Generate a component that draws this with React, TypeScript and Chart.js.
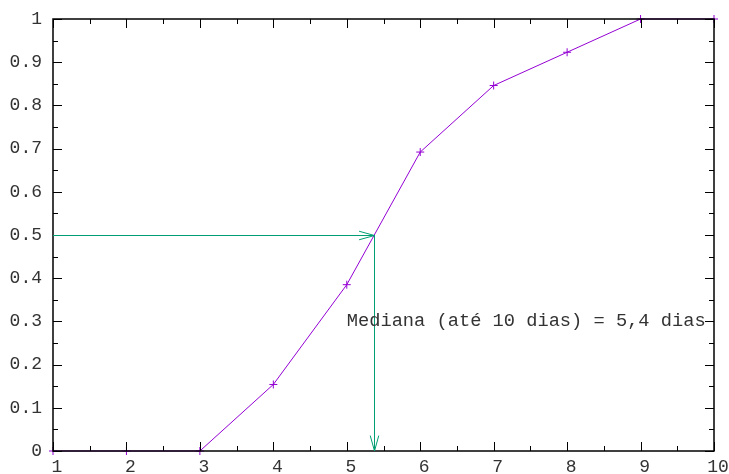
import React, { useEffect, useRef } from "react";
import { Chart, registerables } from "chart.js";

Chart.register(...registerables);

// ---- data ----
const DAYS = [1, 2, 3, 4, 5, 6, 7, 8, 9, 10];
const CUM_FRACTION = [0, 0, 0, 0.154, 0.385, 0.692, 0.846, 0.923, 1, 1];
const X_TICKS = [1, 2, 3, 4, 5, 6, 7, 8, 9, 10];
const X_TICK_LABELS = ["1", "2", "3", "4", "5", "6", "7", "8", "9", "10"];
const Y_TICKS = [0, 0.1, 0.2, 0.3, 0.4, 0.5, 0.6, 0.7, 0.8, 0.9, 1];
const Y_TICK_LABELS = ["0", "0.1", "0.2", "0.3", "0.4", "0.5", "0.6", "0.7", "0.8", "0.9", "1"];
const MEDIAN_X = 5.375;
const MEDIAN_Y = 0.5;
const ARROW_START_X = 1;
const LABEL_TEXT = "Mediana (até 10 dias) = 5,4 dias";
const LABEL_X = 5;
const LABEL_Y = 0.3;

const FONT = "Liberation Mono";
const PURPLE = "#9400d3";
const GREEN = "#009e73";

function arrowHead(ctx: CanvasRenderingContext2D, x: number, y: number, angle: number) {
  const len = 16;
  const spread = 0.27;
  ctx.beginPath();
  ctx.moveTo(x - len * Math.cos(angle - spread), y - len * Math.sin(angle - spread));
  ctx.lineTo(x, y);
  ctx.lineTo(x - len * Math.cos(angle + spread), y - len * Math.sin(angle + spread));
  ctx.stroke();
}

function seg(ctx: CanvasRenderingContext2D, x1: number, y1: number, x2: number, y2: number) {
  ctx.beginPath();
  ctx.moveTo(x1, y1);
  ctx.lineTo(x2, y2);
  ctx.stroke();
}

function drawFrame(chart: any) {
  const ctx: CanvasRenderingContext2D = chart.ctx;
  const a = chart.chartArea;
  const xs = chart.scales.x;
  const ys = chart.scales.y;
  const L = Math.round(a.left);
  const R = Math.round(a.right);
  const T = Math.round(a.top);
  const B = Math.round(a.bottom);
  ctx.save();
  ctx.fillStyle = "#000000";
  const major = 9;
  const minor = 5;
  for (let i = 0; i < X_TICKS.length; i++) {
    const v = X_TICKS[i];
    const px = Math.round(xs.getPixelForValue(v));
    ctx.fillRect(px, B - major, 1, major);
    ctx.fillRect(px, T, 1, major);
    if (i < X_TICKS.length - 1) {
      const m = Math.round(xs.getPixelForValue((v + X_TICKS[i + 1]) / 2));
      ctx.fillRect(m, B - minor, 1, minor);
      ctx.fillRect(m, T, 1, minor);
    }
  }
  for (let i = 0; i < Y_TICKS.length; i++) {
    const v = Y_TICKS[i];
    const py = Math.round(ys.getPixelForValue(v));
    ctx.fillRect(L, py, major, 1);
    ctx.fillRect(R - major, py, major, 1);
    if (i < Y_TICKS.length - 1) {
      const m = Math.round(ys.getPixelForValue((v + Y_TICKS[i + 1]) / 2));
      ctx.fillRect(L, m, minor, 1);
      ctx.fillRect(R - minor, m, minor, 1);
    }
  }
  ctx.strokeStyle = "#000000";
  ctx.lineWidth = 1.5;
  ctx.strokeRect(L, T, R - L, B - T);
  ctx.restore();
}

function drawAnnotations(chart: any) {
  const ctx: CanvasRenderingContext2D = chart.ctx;
  const xs = chart.scales.x;
  const ys = chart.scales.y;
  const x0 = xs.getPixelForValue(ARROW_START_X);
  const mx = Math.round(xs.getPixelForValue(MEDIAN_X)) + 0.5;
  const my = Math.round(ys.getPixelForValue(MEDIAN_Y)) + 0.5;
  const y0 = ys.getPixelForValue(0);
  ctx.save();
  ctx.strokeStyle = GREEN;
  ctx.lineWidth = 1;
  seg(ctx, x0, my, mx, my);
  arrowHead(ctx, mx, my, 0);
  seg(ctx, mx, my, mx, y0);
  arrowHead(ctx, mx, y0, Math.PI / 2);
  ctx.fillStyle = "#333";
  ctx.font = `18.7px "${FONT}"`;
  ctx.textAlign = "left";
  ctx.textBaseline = "middle";
  ctx.fillText(LABEL_TEXT, xs.getPixelForValue(LABEL_X), ys.getPixelForValue(LABEL_Y));
  ctx.restore();
}

const framePlugin = {
  id: "frame",
  afterDraw(chart: any) {
    drawFrame(chart);
    drawAnnotations(chart);
  },
};

export default function App() {
  const ref = useRef<HTMLCanvasElement>(null);
  useEffect(() => {
    document.body.style.margin = "0";
    const canvas = ref.current!;
    const chart = new Chart(canvas, {
      type: "line",
      data: {
        datasets: [
          {
            data: DAYS.map((d, i) => ({ x: d, y: CUM_FRACTION[i] })),
            borderColor: PURPLE,
            backgroundColor: PURPLE,
            borderWidth: 1,
            pointStyle: "cross",
            pointRadius: 4,
            pointBorderWidth: 1,
            pointBorderColor: PURPLE,
            tension: 0,
            fill: false,
            clip: false as any,
          },
        ],
      },
      options: {
        responsive: false,
        animation: false,
        devicePixelRatio: 1,
        layout: { padding: { top: 19, right: 15, left: 0, bottom: 0 } },
        plugins: { legend: { display: false }, tooltip: { enabled: false } },
        events: [],
        scales: {
          x: {
            type: "linear",
            min: 1,
            max: 10,
            grid: { display: false, drawTicks: false },
            border: { display: false },
            afterBuildTicks: (s: any) => {
              s.ticks = X_TICKS.map((v) => ({ value: v }));
            },
            afterFit: (s: any) => {
              s.height = 23;
              s.paddingLeft = 0;
              s.paddingRight = 0;
            },
            ticks: {
              font: { family: FONT, size: 18 },
              color: "#333",
              padding: 5,
              labelOffset: 4,
              maxRotation: 0,
              autoSkip: false,
              callback: (_v: any, i: number) => X_TICK_LABELS[i],
            },
          },
          y: {
            type: "linear",
            min: 0,
            max: 1,
            grid: { display: false, drawTicks: false },
            border: { display: false },
            afterBuildTicks: (s: any) => {
              s.ticks = Y_TICKS.map((v) => ({ value: v }));
            },
            afterFit: (s: any) => {
              s.width = 53;
              s.paddingTop = 0;
              s.paddingBottom = 0;
            },
            ticks: {
              font: { family: FONT, size: 18 },
              color: "#333",
              padding: 11,
              autoSkip: false,
              callback: (_v: any, i: number) => Y_TICK_LABELS[i],
            },
          },
        },
      },
      plugins: [framePlugin],
    });
    return () => chart.destroy();
  }, []);
  return (
    <div style={{ position: "fixed", left: 0, top: 0, width: 729, height: 474, background: "#fff" }}>
      <canvas ref={ref} width={729} height={474} style={{ width: 729, height: 474, display: "block" }} />
    </div>
  );
}
